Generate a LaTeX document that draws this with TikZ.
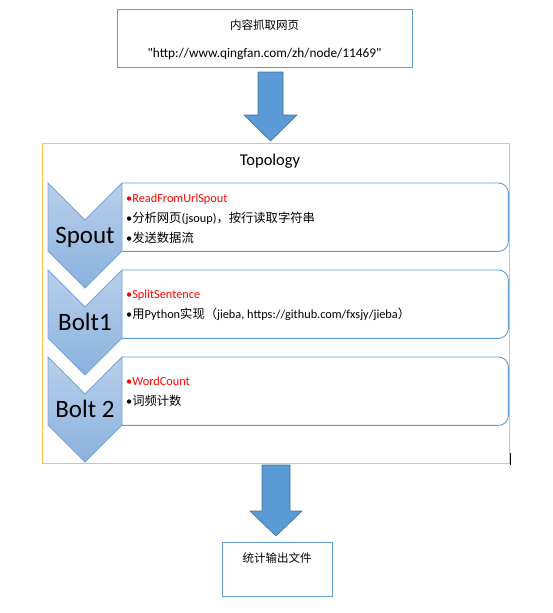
\documentclass[tikz,border=0pt]{standalone}
\usepackage{fontspec}
\setmainfont{Carlito}
\newfontfamily\plainfont{Carlito}
\newfontfamily\cjk{Noto Sans CJK SC}
\definecolor{boxblue}{HTML}{5B9BD5}
\definecolor{arrowfill}{HTML}{5B9BD5}
\definecolor{arrowdraw}{HTML}{41719C}
\definecolor{chevtop}{HTML}{B9D0EB}
\definecolor{chevbot}{HTML}{8AB1DE}
\definecolor{chevdraw}{HTML}{79A5D6}
\definecolor{frameor}{HTML}{FBC249}
\definecolor{redtxt}{HTML}{FF0000}
\tikzset{
  plainbox/.style={draw=boxblue, line width=0.9pt, minimum width=295pt, minimum height=58pt, inner sep=0pt},
  blockarrow/.style={fill=arrowfill, draw=arrowdraw, line width=0.6pt},
  chev/.style={top color=chevtop, bottom color=chevbot, draw=chevdraw, line width=0.8pt},
  itemtxt/.style={anchor=base west, inner sep=0pt, font=\fontsize{12.3}{14}\selectfont},
  bigtxt/.style={anchor=base, inner sep=0pt, font=\fontsize{25}{28}\selectfont},
  tbox/.style={draw=none, minimum width=386pt, minimum height=68pt, inner sep=0pt, anchor=north west},
  boxline/.style={draw=boxblue, line width=0.9pt}
}
\begin{document}
\begin{tikzpicture}[x=1pt,y=-1pt]
\useasboundingbox (0,0) rectangle (552,613);
% top box
\node[plainbox] (src) at (264.5,38) {};
\node[anchor=base, inner sep=0pt, font=\cjk\fontsize{11.5}{13}\selectfont] (srct) at (264.5,29) {内容抓取网页};
\node[anchor=base, inner sep=0pt, font=\plainfont\fontsize{13.3}{15}\selectfont] (url) at (264.5,57) {"http://www.qingfan.com/zh/node/11469"};
% frame
\node[draw=frameor, line width=0.8pt, minimum width=467pt, minimum height=320pt, inner sep=0pt, anchor=north west] (topo) at (41.5,143) {};
\node[anchor=base, inner sep=0pt, font=\fontsize{16.5}{18}\selectfont] (topot) at (270,165) {Topology};
% arrow 1
\coordinate (a1tip) at (270.5,141);
\draw[blockarrow] (258,72) -- (283,72) -- (283,115) -- (297,115) -- (a1tip) -- (244,115) -- (258,115) -- cycle;
% arrow 2
\coordinate (a2tip) at (276,536);
\draw[blockarrow] (262,465) -- (290,465) -- (290,511) -- (302,511) -- (a2tip) -- (250,511) -- (262,511) -- cycle;
% bottom box
\node[draw=boxblue, line width=0.9pt, minimum width=110pt, minimum height=54pt, inner sep=0pt, anchor=north west] (out) at (222,542) {};
\node[anchor=base, inner sep=0pt, font=\cjk\fontsize{11.5}{13}\selectfont] (outt) at (277,562) {统计输出文件};
% tasks boxes
\foreach \T/\nm in {183/b1,270/b2,357/b3}{
  \node[tbox] (\nm) at (122,\T) {};
  \draw[boxline, rounded corners=10pt] (\nm.north west) -- (\nm.north east) -- (\nm.south east) [sharp corners] -- (\nm.south west);
}
% chevrons
\foreach \T/\nm in {183/c1,270/c2,357/c3}{
  \draw[chev] (48,\T) -- (85,\T+37) -- (122,\T) -- (122,\T+68) -- (85,\T+105) -- (48,\T+68) -- cycle;
  \coordinate (\nm) at (85,\T);
}
\node[bigtxt] (l1) at (85,243) {Spout};
\node[bigtxt] (l2) at (85,330) {Bolt1};
\node[bigtxt] (l3) at (85,417) {Bolt 2};
% item texts
\node[itemtxt, text=redtxt] (s1) at (126,202) {•ReadFromUrlSpout};
\node[itemtxt] (s2) at (126,222) {•{\cjk 分析网页}(jsoup){\cjk ，按行读取字符串}};
\node[itemtxt] (s3) at (126,242) {•{\cjk 发送数据流}};
\node[itemtxt, text=redtxt] (t1) at (126,298) {•SplitSentence};
\node[itemtxt] (t2) at (126,318) {•{\cjk 用}Python{\cjk 实现（}jieba, https://github.com/fxsjy/jieba{\cjk ）}};
\node[itemtxt, text=redtxt] (u1) at (126,385) {•WordCount};
\node[itemtxt] (u2) at (126,405) {•{\cjk 词频计数}};
% small mark
\coordinate (mk1) at (510,453);
\coordinate (mk2) at (510,465);
\draw[black, line width=0.8pt] (mk1) -- (mk2);
\end{tikzpicture}
\end{document}
